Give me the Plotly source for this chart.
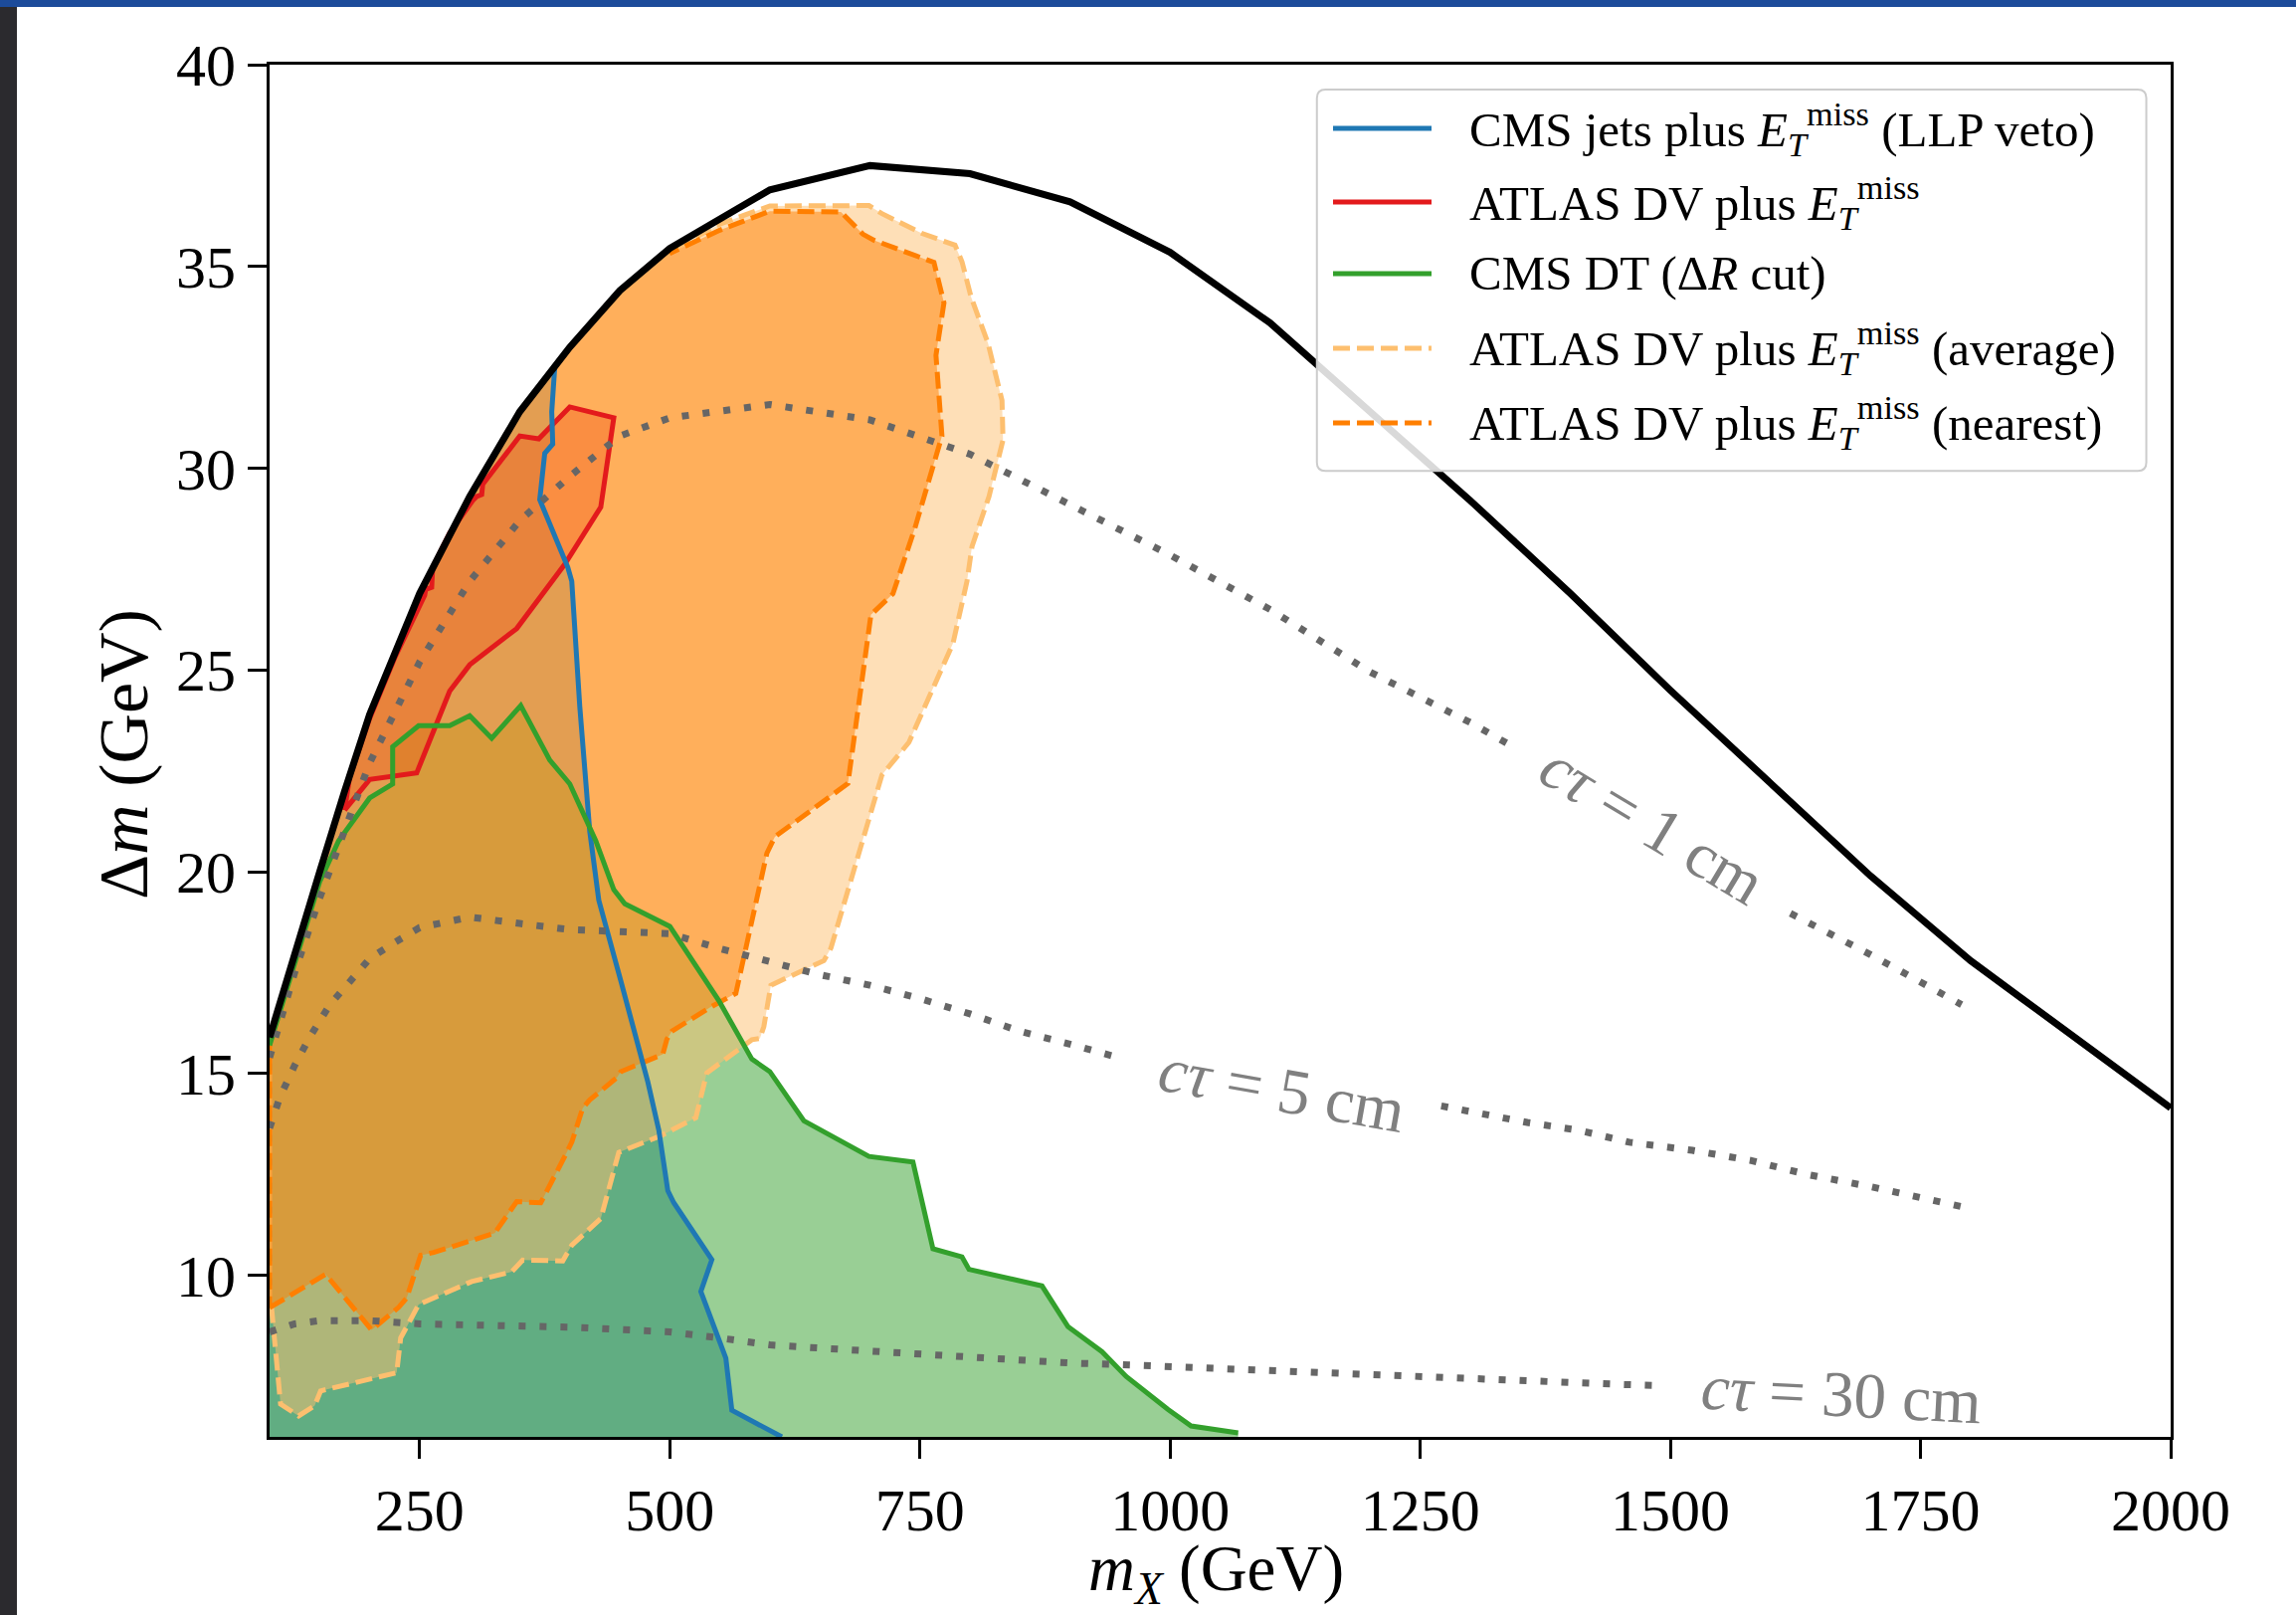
import plotly.graph_objects as go

# ---------------- data ----------------
# kinematic boundary (black solid)
bound_x = [100, 125, 150, 175, 200, 250, 300, 350, 400, 450, 500, 600, 700, 800, 900,
           1000, 1100, 1200, 1300, 1400, 1500, 1600, 1700, 1800, 1900, 2000]
bound_y = [15.9, 18.0, 20.0, 22.0, 23.9, 26.9, 29.3, 31.4, 33.0, 34.4, 35.45, 36.9, 37.5, 37.3, 36.6,
           35.35, 33.6, 31.4, 29.2, 26.9, 24.5, 22.2, 19.9, 17.8, 15.95, 14.15]

# CMS jets plus MET (LLP veto) - blue contour
cms_jets_x = [385, 382, 383, 375, 370, 398, 402, 410, 420, 429, 451, 478, 489, 498, 504, 542, 531, 556, 562, 612]
cms_jets_y = [32.5, 31.4, 30.6, 30.37, 29.22, 27.55, 27.2, 24.1, 21.0, 19.3, 17.3, 14.8, 13.6, 12.1, 11.8,
              10.39, 9.6, 7.95, 6.66, 6.0]

# CMS DT (Delta R cut) - green contour
cms_dt_x = [100, 125, 150, 169, 200, 223, 223, 249, 280, 300, 322, 351, 380, 400, 426, 444, 455, 500,
            549, 582, 600, 634, 699, 743, 763, 792, 799, 872, 898, 932, 956, 998, 1021, 1068]
cms_dt_y = [15.7, 17.75, 19.75, 20.77, 21.83, 22.18, 23.1, 23.62, 23.62, 23.87, 23.31, 24.12, 22.77, 22.18,
            20.77, 19.56, 19.21, 18.65, 16.81, 15.36, 15.05, 13.83, 12.95, 12.81, 10.66, 10.46, 10.15,
            9.74, 8.73, 8.11, 7.5, 6.68, 6.27, 6.1]

# ATLAS DV plus MET - red polygon
atlas_x = [175, 200, 247, 280, 300, 347, 395, 431, 444, 400, 369, 350, 313, 312, 307, 303, 280, 263, 262,
           256, 255, 225, 200, 180, 175]
atlas_y = [21.53, 22.29, 22.45, 24.48, 25.13, 26.03, 27.62, 29.04, 31.25, 31.52, 30.73, 30.8, 29.6, 29.35,
           29.3, 29.2, 28.4, 27.55, 27.05, 27.0, 26.85, 25.3, 23.8, 22.35, 21.53]

# ATLAS DV plus MET (average) - light orange polygon (open side follows boundary)
avg_x = [100, 102, 111, 129, 145, 151, 227, 231, 249, 302, 342, 353, 393, 402, 431, 449, 491, 526, 537,
         582, 590, 594, 601, 654, 661, 679, 694, 712, 739, 761, 783, 797, 802, 819, 833, 832, 818, 801,
         792, 785, 752, 712, 699, 600, 550, 502]
avg_y = [9.2, 9.19, 6.81, 6.52, 6.77, 7.14, 7.59, 8.45, 9.28, 9.85, 10.09, 10.38, 10.36, 10.75, 11.41,
         13.05, 13.46, 13.91, 15.02, 15.84, 15.87, 16.17, 17.19, 17.8, 18.11, 19.64, 20.97, 22.4, 23.21,
         24.44, 25.66, 27.2, 28.06, 29.3, 30.7, 31.68, 33.1, 34.25, 35.12, 35.53, 35.82, 36.31, 36.51,
         36.5, 36.05, 35.4]

# ATLAS DV plus MET (nearest) - dark orange polygon
near_x = [100, 147, 156, 202, 229, 237, 251, 264, 325, 347, 371, 395, 402, 413, 420, 447, 451, 493, 497,
          502, 540, 566, 597, 605, 678, 701, 723, 745, 772, 766, 774, 764, 704, 693, 671, 600, 550, 502]
near_y = [9.2, 9.87, 10.03, 8.65, 9.21, 9.44, 10.5, 10.57, 11.05, 11.83, 11.8, 12.95, 13.3, 14.15, 14.35,
          14.9, 15.05, 15.48, 15.85, 16.05, 16.64, 16.99, 20.46, 20.87, 22.19, 26.37, 26.89, 28.52, 30.8,
          32.8, 34.1, 35.1, 35.65, 35.8, 36.35, 36.37, 35.9, 35.35]

# c*tau contours (gray dotted), each split where its inline label sits
ct1_a_x = [100, 125, 150, 175, 200, 250, 300, 350, 400, 450, 500, 600, 700, 800, 900, 1000, 1100, 1200, 1300, 1340]
ct1_a_y = [15.4, 17.5, 19.35, 21.0, 22.7, 25.2, 27.2, 28.7, 29.8, 30.8, 31.25, 31.58, 31.2, 30.35, 29.1,
           27.85, 26.5, 24.95, 23.7, 23.14]
ct1_b_x = [1620, 1700, 1791]
ct1_b_y = [18.97, 17.95, 16.71]

ct5_a_x = [100, 110, 125, 140, 160, 180, 200, 225, 250, 275, 300, 350, 400, 450, 500, 550, 600, 650, 700,
           750, 800, 850, 900, 944]
ct5_a_y = [13.65, 14.4, 15.2, 15.9, 16.7, 17.3, 17.85, 18.25, 18.62, 18.75, 18.88, 18.72, 18.57, 18.52,
           18.47, 18.1, 17.76, 17.45, 17.19, 16.86, 16.48, 16.05, 15.73, 15.43]
ct5_b_x = [1271, 1357, 1408, 1459, 1522, 1580, 1637, 1700, 1794]
ct5_b_y = [14.2, 13.79, 13.6, 13.3, 13.1, 12.85, 12.5, 12.2, 11.69]

ct30_x = [100, 125, 150, 175, 200, 250, 300, 350, 400, 450, 500, 550, 600, 650, 700, 750, 800, 850, 900,
          950, 1000, 1050, 1100, 1150, 1200, 1250, 1300, 1350, 1400, 1450, 1490]
ct30_y = [8.6, 8.8, 8.88, 8.9, 8.88, 8.8, 8.78, 8.77, 8.72, 8.66, 8.6, 8.45, 8.28, 8.2, 8.12, 8.03, 7.98,
          7.9, 7.83, 7.79, 7.74, 7.68, 7.63, 7.56, 7.52, 7.48, 7.44, 7.39, 7.34, 7.3, 7.27]

ct_labels = ["<i>cτ</i> = 1 cm", "<i>cτ</i> = 5 cm", "<i>cτ</i> = 30 cm"]
ct_label_x = [1482, 1112, 1671]
ct_label_y = [21.2, 14.6, 7.06]
ct_label_angle = [31, 10, 3]

legend_labels = [
    "CMS jets plus <i>E</i><sub><i>T</i></sub><sup>miss</sup> (LLP veto)",
    "ATLAS DV plus <i>E</i><sub><i>T</i></sub><sup>miss</sup>",
    "CMS DT (Δ<i>R</i> cut)",
    "ATLAS DV plus <i>E</i><sub><i>T</i></sub><sup>miss</sup> (average)",
    "ATLAS DV plus <i>E</i><sub><i>T</i></sub><sup>miss</sup> (nearest)",
]

x_ticks = [250, 500, 750, 1000, 1250, 1500, 1750, 2000]
y_ticks = [10, 15, 20, 25, 30, 35, 40]
X_RANGE = [100, 2000]
Y_RANGE = [6, 40]

# ---------------- styles ----------------
FONT = "Liberation Serif"
C_BLUE = "#1f78b4"
C_RED = "#e31a1c"
C_GREEN = "#33a02c"
C_AVG = "#fdbf6f"
C_NEAR = "#ff7f00"
C_DOT = "#666666"
LW = 5
DASH = "17px,7px"

fig = go.Figure()

# boundary segment below a given x (for closing polygons along the kinematic edge)
def boundary_below(xmax):
    pts = [(x, y) for x, y in zip(bound_x, bound_y) if x < xmax]
    return [p[0] for p in pts], [p[1] for p in pts]

# blue fill: left of the blue contour, under the boundary
bbx, bby = boundary_below(cms_jets_x[0])
fig.add_trace(go.Scatter(
    x=cms_jets_x + [X_RANGE[0]] + bbx + [cms_jets_x[0]],
    y=cms_jets_y + [Y_RANGE[0]] + bby + [cms_jets_y[0]],
    fill="toself", fillcolor="rgba(31,120,180,0.5)", line=dict(width=0),
    mode="lines", showlegend=False, hoverinfo="skip"))

# green fill
fig.add_trace(go.Scatter(
    x=cms_dt_x + [cms_dt_x[-1], X_RANGE[0], cms_dt_x[0]],
    y=cms_dt_y + [Y_RANGE[0], Y_RANGE[0], cms_dt_y[0]],
    fill="toself", fillcolor="rgba(51,160,44,0.5)", line=dict(width=0),
    mode="lines", showlegend=False, hoverinfo="skip"))

# average polygon
abx, aby = boundary_below(avg_x[-1])
ax_full = avg_x + abx[::-1] + [avg_x[0]]
ay_full = avg_y + aby[::-1] + [avg_y[0]]
fig.add_trace(go.Scatter(
    x=ax_full, y=ay_full, fill="toself", fillcolor="rgba(253,191,111,0.5)",
    line=dict(color=C_AVG, width=LW, dash=DASH),
    mode="lines", showlegend=False, hoverinfo="skip"))

# nearest polygon
nbx, nby = boundary_below(near_x[-1])
nx_full = near_x + nbx[::-1] + [near_x[0]]
ny_full = near_y + nby[::-1] + [near_y[0]]
fig.add_trace(go.Scatter(
    x=nx_full, y=ny_full, fill="toself", fillcolor="rgba(255,127,0,0.5)",
    line=dict(color=C_NEAR, width=LW, dash=DASH),
    mode="lines", showlegend=False, hoverinfo="skip"))

# ATLAS DV polygon
fig.add_trace(go.Scatter(
    x=atlas_x, y=atlas_y, fill="toself", fillcolor="rgba(240,80,20,0.35)",
    line=dict(color=C_RED, width=LW),
    mode="lines", showlegend=False, hoverinfo="skip"))

# contour lines
fig.add_trace(go.Scatter(x=cms_jets_x, y=cms_jets_y, mode="lines",
                         line=dict(color=C_BLUE, width=LW), showlegend=False, hoverinfo="skip"))
fig.add_trace(go.Scatter(x=cms_dt_x, y=cms_dt_y, mode="lines",
                         line=dict(color=C_GREEN, width=LW), showlegend=False, hoverinfo="skip"))

# c tau dotted lines
for xs, ys in [(ct1_a_x, ct1_a_y), (ct1_b_x, ct1_b_y), (ct5_a_x, ct5_a_y), (ct5_b_x, ct5_b_y),
               (ct30_x, ct30_y)]:
    fig.add_trace(go.Scatter(x=xs, y=ys, mode="lines",
                             line=dict(color=C_DOT, width=7, dash="7px,14px"),
                             showlegend=False, hoverinfo="skip"))

# kinematic boundary
fig.add_trace(go.Scatter(x=bound_x, y=bound_y, mode="lines",
                         line=dict(color="black", width=7), showlegend=False, hoverinfo="skip"))

annotations = []
for t, x, y, a in zip(ct_labels, ct_label_x, ct_label_y, ct_label_angle):
    annotations.append(dict(x=x, y=y, xref="x", yref="y", text=t, showarrow=False,
                            textangle=a, font=dict(family=FONT, size=65, color="#808080"),
                            xanchor="center", yanchor="middle"))

# axis titles
annotations.append(dict(x=0.498, y=-0.0995, xref="paper", yref="paper",
                        text="<i>m</i><sub><i>X</i></sub> (GeV)", showarrow=False,
                        font=dict(family=FONT, size=65, color="black"),
                        xanchor="center", yanchor="middle"))
annotations.append(dict(x=-0.0764, y=0.4975, xref="paper", yref="paper",
                        text="Δ<i>m</i> (GeV)", showarrow=False, textangle=-90,
                        font=dict(family=FONT, size=70, color="black"),
                        xanchor="center", yanchor="middle"))

# manual legend
shapes = []
# dark strip at left and blue strip on top (part of the reference picture)
shapes.append(dict(type="rect", xref="paper", yref="paper", x0=-0.2, x1=-0.1329, y0=-0.2, y1=1.042,
                   fillcolor="#2b2a2e", line=dict(width=0), layer="above"))
shapes.append(dict(type="rect", xref="paper", yref="paper", x0=-0.2, x1=1.2, y0=1.042, y1=1.1,
                   fillcolor="#1c4b9a", line=dict(width=0), layer="above"))

lx0, lx1, ly0, ly1 = 0.5509, 0.9872, 0.7039, 0.9819
rx_, ry_ = 0.0045, 0.0062
path = (f"M{lx0+rx_},{ly0} L{lx1-rx_},{ly0} Q{lx1},{ly0} {lx1},{ly0+ry_} "
        f"L{lx1},{ly1-ry_} Q{lx1},{ly1} {lx1-rx_},{ly1} L{lx0+rx_},{ly1} "
        f"Q{lx0},{ly1} {lx0},{ly1-ry_} L{lx0},{ly0+ry_} Q{lx0},{ly0} {lx0+rx_},{ly0} Z")
shapes.append(dict(type="path", xref="paper", yref="paper", path=path,
                   fillcolor="rgba(255,255,255,0.85)", line=dict(color="#cccccc", width=2),
                   layer="above"))
row_y = [0.9535, 0.8999, 0.8478, 0.7934, 0.7390]
leg_styles = [(C_BLUE, "solid"), (C_RED, "solid"), (C_GREEN, "solid"),
              (C_AVG, DASH), (C_NEAR, DASH)]
for (col, dash), yy, lab in zip(leg_styles, row_y, legend_labels):
    shapes.append(dict(type="line", xref="paper", yref="paper", x0=0.5594, x1=0.6112, y0=yy, y1=yy,
                       line=dict(color=col, width=LW, dash=dash), layer="above"))
    annotations.append(dict(x=0.630, y=yy, xref="paper", yref="paper", text=lab, showarrow=False,
                            font=dict(family=FONT, size=49, color="black"),
                            xanchor="left", yanchor="middle"))

axis_common = dict(showgrid=False, zeroline=False, showline=True, mirror=True,
                   linecolor="black", linewidth=3, ticks="outside", ticklen=19, tickwidth=3,
                   tickcolor="black", tickfont=dict(family=FONT, size=60, color="black"),
                   automargin=False)

fig.update_layout(
    width=2308, height=1623,
    margin=dict(l=271, r=126, t=65, b=179),
    paper_bgcolor="white", plot_bgcolor="white",
    xaxis=dict(range=X_RANGE, tickvals=x_ticks, **axis_common),
    yaxis=dict(range=Y_RANGE, tickvals=y_ticks, **axis_common),
    shapes=shapes, annotations=annotations, showlegend=False,
)

fig.write_html("out.html", config={"displayModeBar": False},
               post_script="document.body.style.margin='0';document.body.style.overflow='hidden';")
